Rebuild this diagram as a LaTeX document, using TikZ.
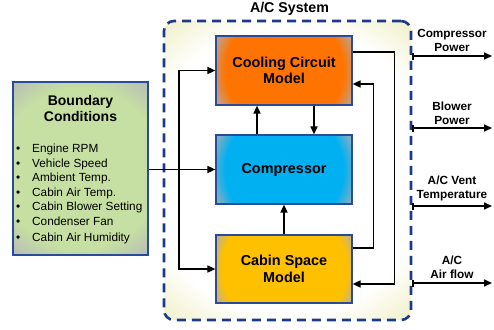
\documentclass[tikz,border=0pt]{standalone}
\usepackage{fontspec}
\setmainfont{Liberation Sans}
\usetikzlibrary{arrows.meta,calc}
\definecolor{coolC}{HTML}{FF7400}
\definecolor{compC}{HTML}{00B0F0}
\definecolor{cabC}{HTML}{FFC000}
\definecolor{bcC}{HTML}{C6DFA2}
\definecolor{edgeG}{HTML}{ACAEB6}
\definecolor{bcG}{HTML}{B5B9B9}
\definecolor{yelC}{HTML}{EEEEC2}
\definecolor{boxB}{HTML}{2A4A9A}
\definecolor{dashB}{HTML}{1C3A8A}
\pgfdeclareradialshading{coolsh}{\pgfpoint{0bp}{0bp}}{color(0bp)=(coolC);color(19bp)=(coolC);color(25bp)=(edgeG);color(50bp)=(edgeG)}
\pgfdeclareradialshading{compsh}{\pgfpoint{0bp}{0bp}}{color(0bp)=(compC);color(19bp)=(compC);color(25bp)=(edgeG);color(50bp)=(edgeG)}
\pgfdeclareradialshading{cabsh}{\pgfpoint{0bp}{0bp}}{color(0bp)=(cabC);color(20bp)=(cabC);color(25bp)=(edgeG);color(50bp)=(edgeG)}
\pgfdeclareradialshading{bcsh}{\pgfpoint{0bp}{0bp}}{color(0bp)=(bcC);color(18bp)=(bcC);color(25bp)=(bcG);color(50bp)=(bcG)}
\pgfdeclareradialshading{syssh}{\pgfpoint{0bp}{0bp}}{color(0bp)=(white);color(18bp)=(white);color(25bp)=(yelC);color(50bp)=(yelC)}
\tikzset{
  mbox/.style={draw=boxB, line width=1.2pt, minimum width=136pt, minimum height=69pt,
    inner sep=0pt, align=center, font=\fontsize{14.4}{16.5}\selectfont\bfseries, fill=edgeG},
  glow/.style 2 args={path picture={\shade[shading=#1] (path picture bounding box.center) circle (#2);}},
  arr/.style={line width=1.6pt, -{Triangle[length=8pt,width=7pt]}},
  outarr/.style={line width=1.6pt, {Bar[width=7pt,line width=1.6pt]}-{Triangle[length=8pt,width=7pt]}},
  outlbl/.style={align=center, inner sep=0pt, font=\fontsize{11.8}{14}\selectfont\bfseries},
}
\begin{document}
\begin{tikzpicture}[x=1pt,y=-1pt]
\useasboundingbox (0,0) rectangle (494,329);
% system box
\node[draw=dashB, line width=2.6pt, dash pattern=on 9pt off 6pt, rounded corners=10pt,
  minimum width=247pt, minimum height=299pt, inner sep=0pt,
  glow={syssh}{200pt}] (sys) at (287.5,170.5) {};
\node[font=\fontsize{14.2}{16}\selectfont\bfseries, inner sep=0pt] (title) at (289.5,9) {A/C System};
% model boxes
\node[mbox, glow={coolsh}{78pt}] (cool) at (284,70.5) {Cooling Circuit\\Model};
\node[mbox, glow={compsh}{78pt}] (comp) at (284,169.5) {Compressor};
\node[mbox, minimum height=68pt, glow={cabsh}{78pt}] (cab) at (284,269) {Cabin Space\\Model};
% boundary conditions
\node[draw=boxB, line width=1.2pt, minimum width=135pt, minimum height=173pt, inner sep=0pt,
  fill=bcG, glow={bcsh}{112pt}] (bc) at (80.5,168.5) {};
\node[align=center, inner sep=0pt, font=\fontsize{14}{16.5}\selectfont\bfseries] (bctitle) at (80.5,108.5) {Boundary\\Conditions};
\node[align=left, inner sep=0pt, anchor=west, font=\fontsize{11.8}{14.6}\selectfont] (bclist) at (16,194) {%
\makebox[16pt][l]{\textbullet}Engine RPM\\
\makebox[16pt][l]{\textbullet}Vehicle Speed\\
\makebox[16pt][l]{\textbullet}Ambient Temp.\\
\makebox[16pt][l]{\textbullet}Cabin Air Temp.\\
\makebox[16pt][l]{\textbullet}Cabin Blower Setting\\
\makebox[16pt][l]{\textbullet}Condenser Fan\\[1.5pt]
\makebox[16pt][l]{\textbullet}Cabin Air Humidity};
% inputs
\coordinate (jt) at (179,70.5);
\coordinate (jb) at (179,269);
\draw[arr] (bc.east |- comp.west) -- (comp.west);
\draw[arr] (jb) |- (cool.west);
\draw[arr] (jt) |- (cab.west);
% internal
\draw[arr] ([xshift=30pt]cool.south) -- ([xshift=30pt]comp.north);
\draw[arr] ([xshift=-27pt]comp.north) -- ([xshift=-27pt]cool.south);
\draw[arr] (cab.north) -- (comp.south);
\draw[arr] ([yshift=18.5pt]cool.east) -- ++(42,0) |- ([yshift=-15pt]cab.east);
\draw[arr] ([yshift=21pt]cab.east) -- ++(21,0) |- ([yshift=-13.5pt]cool.east);
% outputs
\coordinate (o1) at (492,56);
\coordinate (o2) at (492,128);
\coordinate (o3) at (492,206);
\coordinate (o4) at (492,283);
\draw[outarr] (sys.east |- o1) -- (o1);
\draw[outarr] (sys.east |- o2) -- (o2);
\draw[outarr] (sys.east |- o3) -- (o3);
\draw[outarr] (sys.east |- o4) -- (o4);
\node[outlbl] (l1) at (452,40) {Compressor\\Power};
\node[outlbl] (l2) at (452,113.5) {Blower\\Power};
\node[outlbl] (l3) at (452,188) {A/C Vent\\Temperature};
\node[outlbl] (l4) at (452,267.5) {A/C\\Air flow};
\end{tikzpicture}
\end{document}
